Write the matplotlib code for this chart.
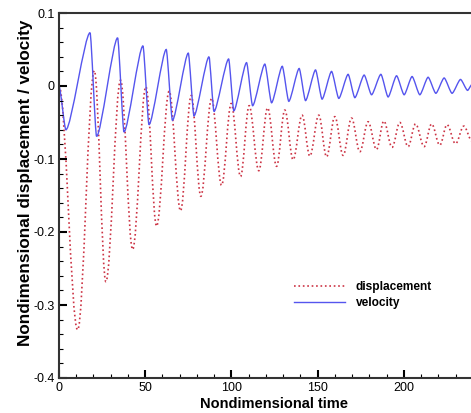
import matplotlib
matplotlib.use("Agg")
import matplotlib.pyplot as plt
from matplotlib.ticker import MultipleLocator
from matplotlib.path import Path
from matplotlib.patches import PathPatch
from matplotlib.lines import Line2D

plt.rcParams['font.family'] = ['Liberation Sans', 'DejaVu Sans']

# displacement: start, then alternating trough / peak
disp_t = [0.0, 10.8, 20.5, 27.2, 35.7, 42.7, 50.4, 56.6, 63.9, 70.5, 76.7, 82.3,
          88.5, 94.3, 99.9, 105.3, 110.3, 115.9, 121.0, 126.2, 131.0, 135.8,
          141.0, 145.5, 150.7, 155.2, 160.0, 164.8, 169.7, 174.5, 179.3, 184.2,
          188.4, 193.2, 197.7, 202.5, 206.8, 211.8, 216.1, 220.9, 225.1, 230.0,
          234.8, 239.5]
disp_v = [0.0, -0.334, 0.021, -0.268, 0.008, -0.224, -0.001, -0.192, -0.007,
          -0.171, -0.013, -0.151, -0.017, -0.136, -0.024, -0.124, -0.027, -0.116,
          -0.030, -0.110, -0.033, -0.101, -0.040, -0.096, -0.040, -0.097, -0.042,
          -0.095, -0.044, -0.090, -0.049, -0.087, -0.048, -0.084, -0.050, -0.083,
          -0.052, -0.083, -0.052, -0.081, -0.053, -0.079, -0.055, -0.075]

# velocity: start, then alternating trough / peak (sawtooth-like)
vel_t = [0.0, 4.0, 18.0, 21.8, 34.0, 37.7, 48.7, 52.2, 62.2, 65.8, 75.0, 78.3,
         87.0, 89.9, 98.4, 101.4, 108.8, 112.3, 119.4, 123.3, 129.5, 133.3,
         139.3, 143.0, 148.8, 152.6, 158.1, 162.3, 167.7, 171.6, 177.0, 181.3,
         186.7, 190.9, 195.8, 200.2, 204.8, 209.3, 214.1, 218.6, 223.4, 228.0,
         232.9, 237.0, 239.5]
vel_v = [0.0, -0.060, 0.073, -0.069, 0.066, -0.063, 0.055, -0.053, 0.050, -0.047,
         0.045, -0.041, 0.040, -0.035, 0.037, -0.034, 0.032, -0.027, 0.030, -0.023,
         0.027, -0.021, 0.024, -0.020, 0.022, -0.018, 0.020, -0.017, 0.016, -0.016,
         0.015, -0.012, 0.016, -0.015, 0.014, -0.012, 0.013, -0.012, 0.012, -0.010,
         0.011, -0.010, 0.009, -0.006, 0.002]


# smooth path through the extrema, flat tangent at each one (bezier segments)
def smooth_path(t, v, k):
    verts = [(t[0], v[0])]
    codes = [Path.MOVETO]
    for i in range(len(t) - 1):
        dt = t[i + 1] - t[i]
        verts += [(t[i] + k * dt, v[i]), (t[i + 1] - k * dt, v[i + 1]), (t[i + 1], v[i + 1])]
        codes += [Path.CURVE4] * 3
    return Path(verts, codes)


fig = plt.figure(figsize=(4.71, 4.13), dpi=100)
ax = fig.add_axes([59/471, 35/413, 431/471, 365/413])

red = '#cc3344'
blue = '#5555ee'
ax.add_patch(PathPatch(smooth_path(disp_t, disp_v, 0.36), facecolor='none',
                       edgecolor=red, linestyle=':', linewidth=1.2))
ax.add_patch(PathPatch(smooth_path(vel_t, vel_v, 0.22), facecolor='none',
                       edgecolor=blue, linestyle='-', linewidth=1.0))

ax.set_xlim(0, 250)
ax.set_ylim(-0.4, 0.1)
ax.xaxis.set_minor_locator(MultipleLocator(10))
ax.set_xticks([0, 50, 100, 150, 200])
ax.yaxis.set_minor_locator(MultipleLocator(0.02))
ax.set_yticks([0.1, 0, -0.1, -0.2, -0.3, -0.4])
ax.set_yticklabels(['0.1', '0', '-0.1', '-0.2', '-0.3', '-0.4'])
ax.tick_params(which='major', direction='in', length=6, width=1.5, labelsize=9, pad=3)
ax.tick_params(which='minor', direction='in', length=3, width=0.8)
ax.tick_params(top=False, right=False)
for s in ax.spines.values():
    s.set_linewidth(1.5)
    s.set_color('#333333')

ax.set_xlabel('Nondimensional time', fontsize=10.5, fontweight='bold', labelpad=2)
ax.set_ylabel('Nondimensional displacement / velocity', fontsize=12.3, fontweight='bold')
ax.yaxis.set_label_coords(-0.060, 0.534)

handles = [Line2D([], [], color=red, linestyle=':', linewidth=1.2),
           Line2D([], [], color=blue, linestyle='-', linewidth=1.0)]
ax.legend(handles, ['displacement', 'velocity'], loc='upper left',
          bbox_to_anchor=(0.52, 0.295), frameon=False,
          prop={'weight': 'bold', 'size': 8.6}, handlelength=4.3,
          handletextpad=0.9, labelspacing=0.35)

fig.savefig('out.png', dpi=100)
